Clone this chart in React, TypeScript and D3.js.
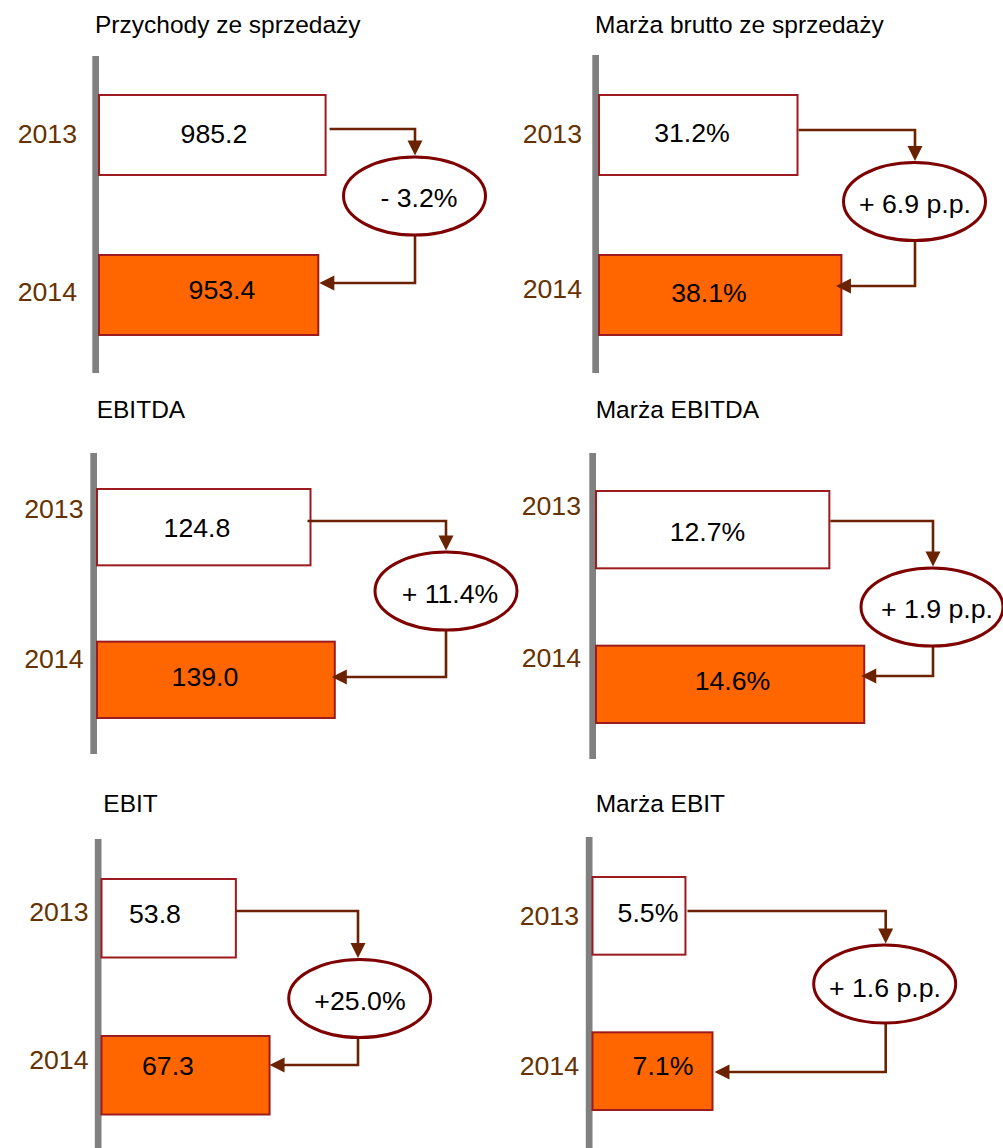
import React from "react";
import * as d3 from "d3";

// Key figures, 2013 vs 2014
const PANEL_TITLES = [
  "Przychody ze sprzedaży",
  "Marża brutto ze sprzedaży",
  "EBITDA",
  "Marża EBITDA",
  "EBIT",
  "Marża EBIT",
];
const YEARS = ["2013", "2014"];
const VALUES_2013 = [985.2, 31.2, 124.8, 12.7, 53.8, 5.5];
const VALUES_2014 = [953.4, 38.1, 139.0, 14.6, 67.3, 7.1];
const UNITS = ["", "%", "", "%", "", "%"];
const CHANGE_LABELS = ["- 3.2%", "+ 6.9 p.p.", "+ 11.4%", "+ 1.9 p.p.", "+25.0%", "+ 1.6 p.p."];

// Panel geometry (page pixels)
type Layout = {
  x0: number; axisTop: number; axisBottom: number;
  band: [number, number]; domainMax: number; rangeWidth: number;
  titleX: number; titleY: number;
  labelX: number; labelY: [number, number];
  valueX: [number, number]; valueY: [number, number];
  linkY: number; linkDx: number;
  cx: number; cy: number; vx: number;
  returnY: number; tipDx: number;
  changeX: number; changeY: number;
};

const LAYOUT: Layout[] = [
  { x0: 99, axisTop: 56, axisBottom: 373, band: [95, 335], domainMax: 1000, rangeWidth: 230,
    titleX: 95, titleY: 33, labelX: 77, labelY: [133, 291], valueX: [214, 222], valueY: [133, 289],
    linkY: 129, linkDx: 4, cx: 414.5, cy: 196, vx: 415, returnY: 283, tipDx: 1, changeX: 419, changeY: 197 },
  { x0: 599, axisTop: 55, axisBottom: 373, band: [95, 335], domainMax: 40, rangeWidth: 254.5,
    titleX: 595, titleY: 33, labelX: 582, labelY: [133, 288], valueX: [692, 709], valueY: [132, 292],
    linkY: 130, linkDx: 1, cx: 914.5, cy: 201.5, vx: 915, returnY: 286, tipDx: -5.5, changeX: 915, changeY: 203 },
  { x0: 97, axisTop: 453, axisBottom: 754, band: [489, 718], domainMax: 140, rangeWidth: 239.5,
    titleX: 96.7, titleY: 418, labelX: 83.5, labelY: [508, 658], valueX: [197, 205], valueY: [527, 676],
    linkY: 521, linkDx: -3, cx: 446, cy: 591, vx: 446, returnY: 677, tipDx: -3, changeX: 450, changeY: 593 },
  { x0: 596, axisTop: 453, axisBottom: 759, band: [491, 723], domainMax: 15, rangeWidth: 275.6,
    titleX: 595.7, titleY: 418, labelX: 581, labelY: [505, 657], valueX: [707.5, 732.5], valueY: [531, 680],
    linkY: 521, linkDx: 1, cx: 932, cy: 607, vx: 933, returnY: 676, tipDx: -3, changeX: 937, changeY: 608 },
  { x0: 101.5, axisTop: 839, axisBottom: 1148, band: [879, 1114.5], domainMax: 70, rangeWidth: 174.8,
    titleX: 103.3, titleY: 812, labelX: 88.5, labelY: [911, 1059], valueX: [155, 168], valueY: [913, 1065],
    linkY: 911, linkDx: 0, cx: 359.7, cy: 998.5, vx: 358, returnY: 1065, tipDx: 0, changeX: 360, changeY: 1000 },
  { x0: 592.5, axisTop: 837, axisBottom: 1148, band: [877, 1110], domainMax: 8, rangeWidth: 135.2,
    titleX: 595.7, titleY: 812, labelX: 579, labelY: [915, 1065], valueX: [648, 663], valueY: [912, 1065],
    linkY: 911, linkDx: 2, cx: 884.7, cy: 984, vx: 885.7, returnY: 1072, tipDx: 2, changeX: 885, changeY: 987 },
];

const FONT = "'Liberation Sans', Arial, sans-serif";
const VALUE_SIZE = 26.7;
const TITLE_SIZE = 24.5;
const CAP_HALF = VALUE_SIZE * 0.358;

const AXIS_COLOR = "#808080";
const BAR_FILL_2014 = "#FF6600";
const BAR_STROKE = "#9B1B1E";
const LINK_COLOR = "#6B2200";
const ELLIPSE_STROKE = "#7F0000";
const YEAR_COLOR = "#663300";

const RX = 71;
const RY = 39;
const HEAD = 15;

const fmt = d3.format(".1f");

function Panel({ i }: { i: number }) {
  const L = LAYOUT[i];
  const values = [VALUES_2013[i], VALUES_2014[i]];
  const x = d3.scaleLinear().domain([0, L.domainMax]).range([L.x0, L.x0 + L.rangeWidth]);
  const y = d3.scaleBand<string>().domain(YEARS).range(L.band).paddingInner(0.5).paddingOuter(0);

  const end2013 = x(values[0]);
  const end2014 = x(values[1]);
  const topY = L.cy - RY - 1.5;
  const bottomY = L.cy + RY;
  const startX = end2013 + L.linkDx;
  const tipX = end2014 + L.tipDx;

  const line = d3.line();
  const downPath = line([
    [startX, L.linkY],
    [L.vx, L.linkY],
    [L.vx, topY - HEAD + 1],
  ]);
  const returnPath = line([
    [L.vx, bottomY],
    [L.vx, L.returnY],
    [tipX + HEAD - 1, L.returnY],
  ]);
  const downHead = line([
    [L.vx - HEAD / 2, topY - HEAD],
    [L.vx + HEAD / 2, topY - HEAD],
    [L.vx, topY],
  ]) + "Z";
  const leftHead = line([
    [tipX + HEAD, L.returnY - HEAD / 2],
    [tipX + HEAD, L.returnY + HEAD / 2],
    [tipX, L.returnY],
  ]) + "Z";

  return (
    <g>
      <text x={L.titleX} y={L.titleY} fontSize={TITLE_SIZE} fontFamily={FONT} fill="#000">
        {PANEL_TITLES[i]}
      </text>
      <rect x={L.x0 - 6.7} y={L.axisTop} width={6.7} height={L.axisBottom - L.axisTop} fill={AXIS_COLOR} />
      {YEARS.map((yr, k) => (
        <rect
          key={yr}
          x={x(0)}
          y={y(yr)}
          width={x(values[k]) - x(0)}
          height={y.bandwidth()}
          fill={k === 0 ? "#FFFFFF" : BAR_FILL_2014}
          stroke={BAR_STROKE}
          strokeWidth={2}
        />
      ))}
      <path d={downPath ?? ""} fill="none" stroke={LINK_COLOR} strokeWidth={2.6} />
      <path d={downHead} fill={LINK_COLOR} />
      <path d={returnPath ?? ""} fill="none" stroke={LINK_COLOR} strokeWidth={2.6} />
      <path d={leftHead} fill={LINK_COLOR} />
      <ellipse cx={L.cx} cy={L.cy} rx={RX} ry={RY} fill="#FFFFFF" stroke={ELLIPSE_STROKE} strokeWidth={3} />
      <text
        x={L.changeX}
        y={L.changeY + CAP_HALF}
        textAnchor="middle"
        fontSize={VALUE_SIZE}
        fontFamily={FONT}
        fill="#000"
      >
        {CHANGE_LABELS[i]}
      </text>
      {YEARS.map((yr, k) => (
        <text
          key={"y" + yr}
          x={L.labelX}
          y={L.labelY[k] + CAP_HALF}
          textAnchor="end"
          fontSize={VALUE_SIZE}
          fontFamily={FONT}
          fill={YEAR_COLOR}
        >
          {yr}
        </text>
      ))}
      {YEARS.map((yr, k) => (
        <text
          key={"v" + yr}
          x={L.valueX[k]}
          y={L.valueY[k] + CAP_HALF}
          textAnchor="middle"
          fontSize={VALUE_SIZE}
          fontFamily={FONT}
          fill="#000"
        >
          {fmt(values[k]) + UNITS[i]}
        </text>
      ))}
    </g>
  );
}

export default function App() {
  return (
    <svg
      width={1003}
      height={1148}
      viewBox="0 0 1003 1148"
      style={{ position: "absolute", left: 0, top: 0, background: "#FFFFFF" }}
    >
      <rect width={1003} height={1148} fill="#FFFFFF" />
      {PANEL_TITLES.map((_, i) => (
        <Panel key={i} i={i} />
      ))}
    </svg>
  );
}
